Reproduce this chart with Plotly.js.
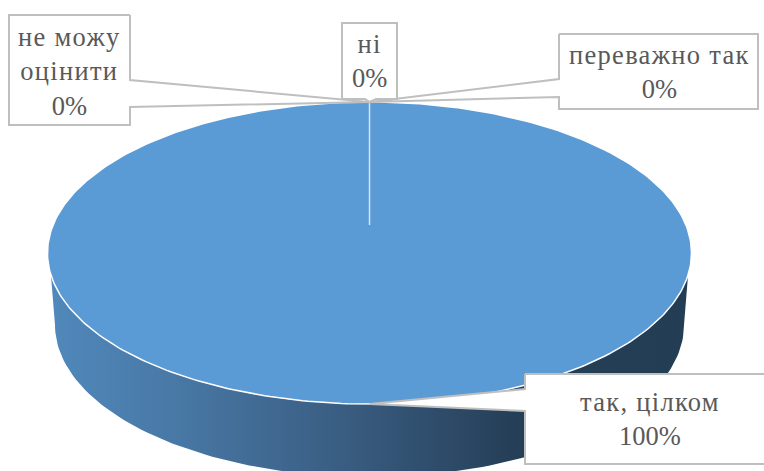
<!DOCTYPE html>
<html>
<head>
<meta charset="utf-8">
<script src="https://cdn.plot.ly/plotly-3.0.1.min.js"></script>
<style>html,body{margin:0;padding:0;background:#fff}#chart{width:764px;height:471px}</style>
</head>
<body>
<div id="chart"></div>
<script>
// Data
const categories = ['так, цілком', 'переважно так', 'ні', 'не можу', 'оцінити'];
const categoryLines = [[0], [1], [2], [3, 4]];
const values = [100, 0, 0, 0];

// Label box layout, one per value (left, top, right, bottom, wedge ends on the box side, text centre)
const boxes = [
  {l: 525, t: 374, r: 775, b: 464, side: 'l', w0: 389, w1: 411, tx: 650, ty: 419},
  {l: 559, t: 34,  r: 758, b: 109, side: 'l', w0: 79,  w1: 97,  tx: 659, ty: 72},
  {l: 342, t: 23,  r: 397, b: 99,  side: 'b', w0: 365, w1: 376, tx: 369, ty: 61},
  {l: 9,   t: 15,  r: 130, b: 125, side: 'r', w0: 80,  w1: 107, tx: 69,  ty: 71}
];

// Pie geometry
const top3d = {cx: 369.5, cy: 253, rx: 322, ry: 151, apexY: 225};
const base3d = {cx: 369.5, cy: 325, rx: 314.5, ry: 152};
const wallJoinY = 275;

function arc(e, a0, a1, n) {
  const xs = [], ys = [];
  for (let i = 0; i <= n; i++) {
    const a = a0 + (a1 - a0) * i / n;
    xs.push(e.cx + e.rx * Math.cos(a));
    ys.push(e.cy + e.ry * Math.sin(a));
  }
  return {xs, ys};
}
const total = values.reduce((s, v) => s + v, 0);
let cum = 0;
const mids = [], starts = [];
values.forEach(v => {
  const f0 = cum / total, f1 = (cum + v) / total;
  starts.push(f0);
  mids.push((f0 + f1) / 2);
  cum += v;
});
// fraction clockwise from 12 o'clock to point on top ellipse
const onTop = f => ({
  x: top3d.cx + top3d.rx * Math.sin(2 * Math.PI * f),
  y: top3d.cy - top3d.ry * Math.cos(2 * Math.PI * f)
});

const traces = [];

// Side wall
const aJoin = Math.asin((wallJoinY - top3d.cy) / top3d.ry);
const upper = arc(top3d, Math.PI - aJoin, aJoin, 120);
const lower = arc(base3d, 0, Math.PI, 120);
traces.push({
  type: 'scatter', mode: 'lines',
  x: upper.xs.concat(lower.xs),
  y: upper.ys.concat(lower.ys),
  fill: 'toself',
  line: {width: 0, color: 'rgba(0,0,0,0)'},
  fillgradient: {
    type: 'horizontal', start: 48, stop: 691,
    colorscale: [[0, '#5089BC'], [0.2, '#4878A5'], [0.45, '#3A5E83'], [0.72, '#263F58'], [1, '#223D54']]
  }
});

// Top face
const topEdge = arc(top3d, 0, 2 * Math.PI, 360);
traces.push({
  type: 'scatter', mode: 'lines',
  x: topEdge.xs, y: topEdge.ys,
  fill: 'toself', fillcolor: '#5B9BD5',
  line: {width: 1.5, color: '#FFFFFF'}
});

// Slice border
const sp = onTop(starts[0]);
traces.push({
  type: 'scatter', mode: 'lines',
  x: [top3d.cx, sp.x], y: [top3d.apexY, sp.y],
  line: {width: 1.5, color: '#D5E5F4'}
});

// Callouts
boxes.forEach((b, i) => {
  const p = onTop(mids[i]);
  let xs, ys;
  if (b.side === 'l') {
    xs = [b.l, b.l, p.x, b.l, b.l, b.r, b.r, b.l];
    ys = [b.t, b.w0, p.y, b.w1, b.b, b.b, b.t, b.t];
  } else if (b.side === 'r') {
    xs = [b.r, b.r, p.x, b.r, b.r, b.l, b.l, b.r];
    ys = [b.t, b.w0, p.y, b.w1, b.b, b.b, b.t, b.t];
  } else {
    xs = [b.l, b.w0, p.x, b.w1, b.r, b.r, b.l, b.l];
    ys = [b.b, b.b, p.y, b.b, b.b, b.t, b.t, b.b];
  }
  traces.push({
    type: 'scatter', mode: 'lines', x: xs, y: ys,
    fill: 'toself', fillcolor: '#FFFFFF',
    line: {width: 2, color: '#BFBFBF'}
  });
});

const spaced = s => '<span style="letter-spacing:1.3px">' + s + '</span>';
const annotations = boxes.map((b, i) => ({
  x: b.tx, y: b.ty, xref: 'x', yref: 'y',
  xanchor: 'center', yanchor: 'middle', showarrow: false,
  text: categoryLines[i].map(k => spaced(categories[k])).join('<br>') + '<br>' + Math.round(values[i] / total * 100) + '%',
  font: {family: 'Liberation Serif', size: 26.5, color: '#595959'}
}));

const hidden = {visible: false, fixedrange: true};
Plotly.newPlot('chart', traces, {
  width: 764, height: 471,
  margin: {l: 0, r: 0, t: 0, b: 0},
  paper_bgcolor: '#FFFFFF', plot_bgcolor: '#FFFFFF',
  showlegend: false,
  hovermode: false,
  xaxis: Object.assign({range: [0, 764]}, hidden),
  yaxis: Object.assign({range: [471, 0]}, hidden),
  annotations
}, {staticPlot: true, displayModeBar: false});
</script>
</body>
</html>
